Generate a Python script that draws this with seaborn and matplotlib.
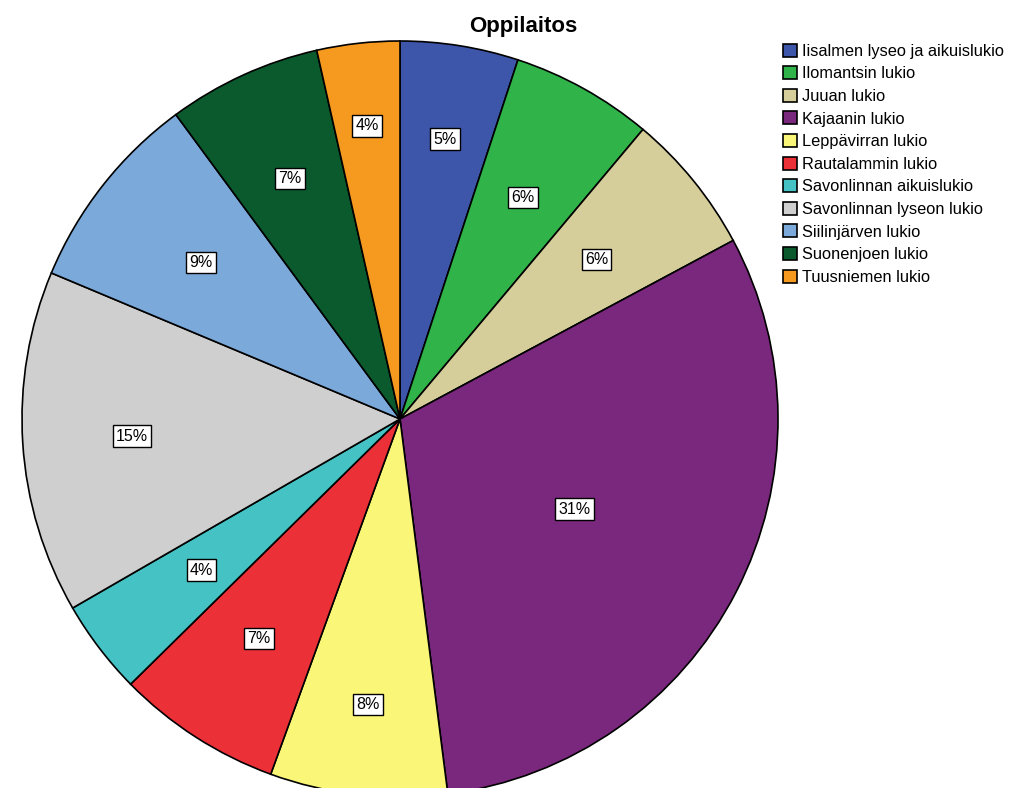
import numpy as np
import matplotlib
matplotlib.use("Agg")
import matplotlib.pyplot as plt
import seaborn as sns

# ============================================================================
# DATA
# ============================================================================

schools = [
    "Iisalmen lyseo ja aikuislukio",
    "Ilomantsin lukio",
    "Juuan lukio",
    "Kajaanin lukio",
    "Leppävirran lukio",
    "Rautalammin lukio",
    "Savonlinnan aikuislukio",
    "Savonlinnan lyseon lukio",
    "Siilinjärven lukio",
    "Suonenjoen lukio",
    "Tuusniemen lukio",
]
counts = [10, 12, 12, 61, 15, 14, 8, 29, 17, 13, 7]

colors = [
    "#3E56AA", "#30B44A", "#D5CE9A", "#7A287D", "#FAF678", "#EC3038",
    "#45C2C3", "#CFCFCF", "#7BA9DA", "#0A5A2E", "#F59A1E",
]

# label distance from centre (fraction of radius), per slice
label_r = [0.75, 0.67, 0.67, 0.52, 0.76, 0.69, 0.66, 0.71, 0.67, 0.70, 0.78]

# ============================================================================
# FIGURE
# ============================================================================

sns.set_style("white")
plt.rcParams["font.family"] = ["Liberation Sans", "DejaVu Sans"]
plt.rcParams["text.color"] = "black"

fig = plt.figure(figsize=(10.24, 7.88), dpi=100)
ax = fig.add_axes([0, 0, 1, 1])

cx, cy, R = 400, 788 - 419, 378

wedges, _ = ax.pie(
    counts,
    colors=colors,
    startangle=90,
    counterclock=False,
    center=(cx, cy),
    radius=R,
    wedgeprops=dict(edgecolor="black", linewidth=1.2),
    frame=True,
)
ax.set_xlim(0, 1024)
ax.set_ylim(0, 788)
ax.set_aspect("equal")
ax.axis("off")

total = sum(counts)
for w, n, lr in zip(wedges, counts, label_r):
    mid = np.deg2rad((w.theta1 + w.theta2) / 2)
    x = cx + lr * R * np.cos(mid)
    y = cy + lr * R * np.sin(mid)
    ax.text(
        x, y, f"{round(100 * n / total)}%",
        ha="center", va="center", fontsize=11.5, color="black",
        bbox=dict(boxstyle="square,pad=0.2", facecolor="white",
                  edgecolor="black", linewidth=1),
    )

fig.text(0.511, 0.966, "Oppilaitos", ha="center", va="center",
         fontsize=16, fontweight="bold", color="black")

fig.legend(
    wedges, schools,
    loc="upper left",
    bbox_to_anchor=(0.757, 0.955),
    frameon=False,
    fontsize=11.8,
    handlelength=0.85,
    handleheight=0.85,
    handletextpad=0.3,
    labelspacing=0.45,
    borderpad=0,
)

fig.savefig("out.png", dpi=100)
